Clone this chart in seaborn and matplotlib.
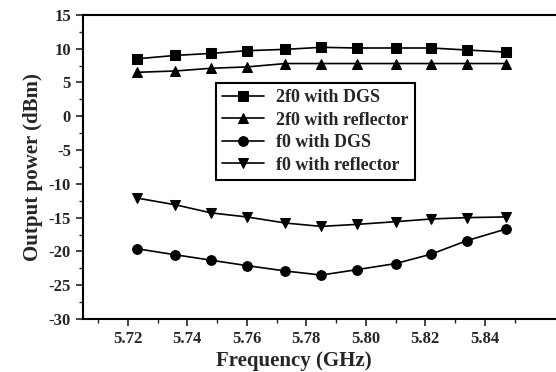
import matplotlib
matplotlib.use("Agg")
import matplotlib.pyplot as plt
import seaborn as sns
import pandas as pd
from matplotlib.ticker import MultipleLocator, FixedLocator

freq = [5.723, 5.736, 5.748, 5.760, 5.773, 5.785, 5.797, 5.810, 5.822, 5.834, 5.847]
p_2f0_dgs = [8.5, 9.0, 9.3, 9.7, 9.9, 10.2, 10.1, 10.1, 10.1, 9.8, 9.5]
p_2f0_refl = [6.5, 6.7, 7.1, 7.3, 7.8, 7.8, 7.8, 7.8, 7.8, 7.8, 7.8]
p_f0_dgs = [-19.6, -20.5, -21.3, -22.1, -22.9, -23.5, -22.7, -21.8, -20.4, -18.4, -16.7]
p_f0_refl = [-12.1, -13.1, -14.3, -14.9, -15.8, -16.3, -16.0, -15.6, -15.2, -15.0, -14.9]
x_ticks = [5.72, 5.74, 5.76, 5.78, 5.80, 5.82, 5.84]

series_names = ["2f0 with DGS", "2f0 with reflector", "f0 with DGS", "f0 with reflector"]
series_vals = [p_2f0_dgs, p_2f0_refl, p_f0_dgs, p_f0_refl]
marker_map = {"2f0 with DGS": "s", "2f0 with reflector": "^",
              "f0 with DGS": "o", "f0 with reflector": "v"}

rows = []
for name, vals in zip(series_names, series_vals):
    for f, v in zip(freq, vals):
        rows.append({"Frequency": f, "Power": v, "Series": name})
df = pd.DataFrame(rows)

sns.set_style("ticks")
plt.rcParams["font.family"] = ["Liberation Serif", "DejaVu Serif"]
plt.rcParams["font.weight"] = "bold"
plt.rcParams["axes.unicode_minus"] = False

fig = plt.figure(figsize=(5.56, 3.72), dpi=100)
ax = fig.add_axes([0.149, 0.1425, 0.851, 0.8175])

sns.lineplot(data=df, x="Frequency", y="Power", hue="Series", style="Series",
             hue_order=series_names, style_order=series_names,
             palette=["black"] * 4, markers=marker_map, dashes=False,
             markersize=7, linewidth=1.2, markeredgecolor="black", ax=ax)

ax.set_xlim(5.7049, 5.8639)
ax.set_ylim(-30, 15)
ax.xaxis.set_major_locator(FixedLocator(x_ticks))
ax.xaxis.set_minor_locator(FixedLocator([t + 0.01 for t in x_ticks[:-1]] + [5.71, 5.85]))
ax.yaxis.set_major_locator(MultipleLocator(5))
ax.yaxis.set_minor_locator(MultipleLocator(2.5))
ax.xaxis.set_major_formatter(matplotlib.ticker.FormatStrFormatter("%.2f"))
ax.tick_params(which="major", direction="out", length=5, width=1.2, labelsize=12)
ax.tick_params(which="minor", direction="out", length=3, width=1.0)
for lab in ax.get_xticklabels() + ax.get_yticklabels():
    lab.set_fontweight("bold")

ax.spines["right"].set_visible(False)
for s in ["left", "bottom", "top"]:
    ax.spines[s].set_linewidth(1.5)
    ax.spines[s].set_color("black")

ax.set_xlabel("Frequency (GHz)", fontsize=15, fontweight="bold")
ax.set_ylabel("Output power (dBm)", fontsize=15, fontweight="bold")
ax.xaxis.set_label_coords(0.446, -0.105)

leg = ax.legend(loc="upper left", bbox_to_anchor=(0.281, 0.776), borderaxespad=0,
                frameon=True, fancybox=False, edgecolor="black",
                prop={"size": 13, "weight": "bold"}, handlelength=2.3,
                labelspacing=0.3, borderpad=0.35, handletextpad=0.7)
leg.get_frame().set_linewidth(1.5)
leg.get_frame().set_alpha(1)

fig.savefig("out.png", dpi=100)
